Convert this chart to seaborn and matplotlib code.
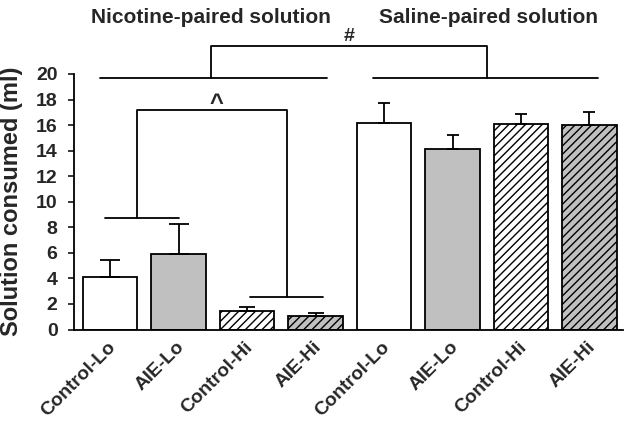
import numpy as np
import pandas as pd
import matplotlib
matplotlib.use('Agg')
import matplotlib.pyplot as plt
import matplotlib.transforms as mtransforms
import seaborn as sns

# dados
groups = ['Control-Lo', 'AIE-Lo', 'Control-Hi', 'AIE-Hi',
          'Control-Lo', 'AIE-Lo', 'Control-Hi', 'AIE-Hi']
solution = ['Nicotine'] * 4 + ['Saline'] * 4
means = [4.15, 5.95, 1.45, 1.1, 16.15, 14.1, 16.05, 16.0]
sems = [1.3, 2.3, 0.35, 0.2, 1.55, 1.1, 0.8, 1.0]
fills = ['white', '#c0c0c0', 'white', '#c0c0c0'] * 2
hatches = ['', '', '////', '////'] * 2
caps = [7.5, 7.5, 6, 6, 4, 4, 4, 4]

df = pd.DataFrame({'bar': [f'{s}-{g}' for s, g in zip(solution, groups)],
                   'mean': means, 'sem': sems})

sns.set_style('white')
plt.rcParams['font.family'] = ['Liberation Sans', 'DejaVu Sans']
plt.rcParams['hatch.linewidth'] = 1.0

fig = plt.figure(figsize=(6.29, 4.28), dpi=100)
ax = fig.add_axes([0.117, 0.230, 0.873, 0.7465])

sns.barplot(data=df, x='bar', y='mean', order=df['bar'], errorbar=None,
            width=0.8, edgecolor='black', linewidth=1.3, ax=ax)
for patch, fc, h in zip(ax.patches, fills, hatches):
    patch.set_facecolor(fc)
    patch.set_hatch(h)
    patch.set_zorder(2)

# barras de erro (só para cima)
for i in range(len(means)):
    ax.errorbar(i, means[i], yerr=[[0], [sems[i]]], fmt='none', ecolor='black',
                elinewidth=1.3, capsize=caps[i], capthick=1.3, zorder=3)

ax.set_xlim(-0.532, 7.485)
ax.set_ylim(0, 25)
ax.set_yticks(np.arange(0, 21, 2))
ax.spines['left'].set_bounds(0, 20)
for s in ['top', 'right']:
    ax.spines[s].set_visible(False)
for s in ['left', 'bottom']:
    ax.spines[s].set_color('black')
    ax.spines[s].set_linewidth(1.3)
ax.tick_params(axis='y', left=True, length=4.5, width=1.3, pad=7, labelsize=14)
ax.tick_params(axis='x', bottom=False, pad=1)
ax.set_xticks(range(len(groups)))
ax.set_xticklabels(groups, rotation=45, ha='right', rotation_mode='anchor',
                   fontsize=13.8, fontweight='bold')
shift = mtransforms.ScaledTranslation(-3 / 100, -3 / 100, fig.dpi_scale_trans)
for lab in ax.get_xticklabels():
    lab.set_transform(lab.get_transform() + shift)
for lab in ax.get_yticklabels():
    lab.set_fontweight('bold')
ax.set_xlabel('')
ax.set_ylabel('Solution consumed (ml)', fontsize=17, fontweight='bold')
ax.yaxis.set_label_coords(-0.092, 0.40)

# linhas de significância
lw = 1.3
kw = dict(color='black', lw=lw, clip_on=False, zorder=4)
ax.plot([-0.14, 3.17], [19.66, 19.66], **kw)
ax.plot([3.84, 7.12], [19.66, 19.66], **kw)
ax.plot([1.47, 1.47, 5.5, 5.5], [19.66, 22.2, 22.2, 19.66], **kw)
ax.plot([-0.07, 1.01], [8.75, 8.75], **kw)
ax.plot([2.05, 3.11], [2.55, 2.55], **kw)
ax.plot([0.4, 0.4, 2.59, 2.59], [8.75, 17.2, 17.2, 2.55], **kw)
ax.text(3.49, 22.3, '#', ha='center', va='bottom', fontsize=14, fontweight='bold')
ax.text(1.55, 16.8, '^', ha='center', va='bottom', fontsize=17, fontweight='bold')

ax.text(1.48, 24.4, 'Nicotine-paired solution', ha='center', va='center',
        fontsize=15, fontweight='bold')
ax.text(5.53, 24.4, 'Saline-paired solution', ha='center', va='center',
        fontsize=15, fontweight='bold')

plt.savefig('out.png', dpi=100)
